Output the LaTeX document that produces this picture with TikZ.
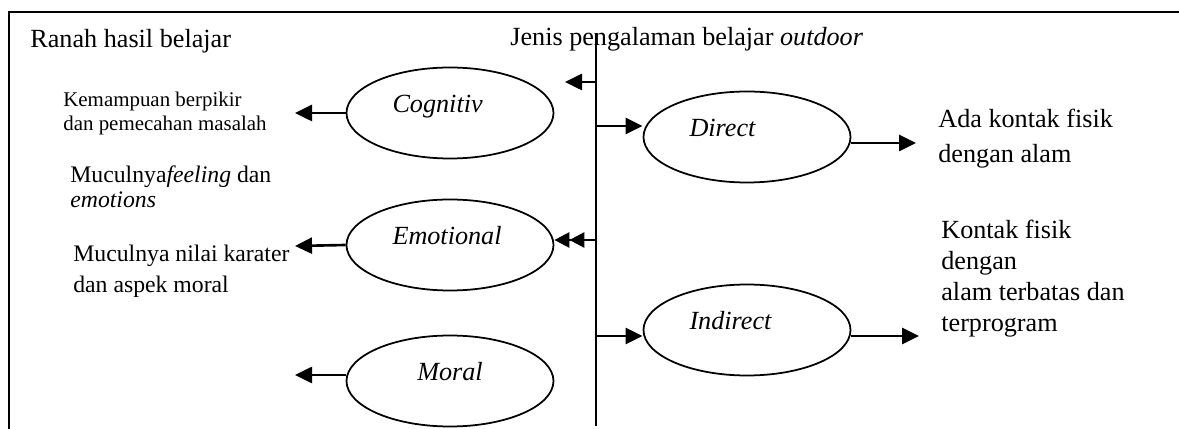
\documentclass[tikz,border=0pt]{standalone}
\usepackage{fontspec}
\setmainfont{Liberation Serif}
\usetikzlibrary{shapes.geometric}
\usetikzlibrary{arrows.meta}

\begin{document}
\begin{tikzpicture}[
    oval/.style={draw, ellipse, line width=1pt, minimum width=4.14cm, minimum height=1.82cm, inner sep=0pt, text width=2.3cm, align=left, text height=0.4cm, text depth=0.4cm, font=\fontsize{14.9}{17.6}\selectfont\itshape},
    head/.style={anchor=base west, inner sep=0pt, font=\fontsize{14.9}{17.6}\selectfont},
    txt/.style={anchor=north west, inner sep=0pt, align=left, font=\fontsize{14.9}{17.6}\selectfont},
    arr/.style={line width=1.5pt, -{Triangle[length=0.34cm, width=0.32cm]}},
    dbl/.style={line width=1.5pt, -{Triangle[length=0.3cm, width=0.3cm] Triangle[length=0.3cm, width=0.3cm]}},
    frame/.style={line width=1.1pt}
]
\useasboundingbox (0,0) rectangle (23.58,-8.58);

% Frame
\draw[frame] (0.18,-8.58) -- (0.18,-0.24) -- (23.58,-0.24);

% Headings
\node[head] (ranah) at (0.6,-0.96) {Ranah hasil belajar};
\node[head] (jenis) at (10.2,-0.92) {Jenis pengalaman belajar \textit{outdoor}};

% Axis
\coordinate (axTop) at (11.92,-0.66);
\coordinate (axBot) at (11.92,-8.52);
\draw[frame] (axTop) -- (axBot);

% Ellipses
\node[oval] (cog) at (9.0,-2.26) {Cognitiv};
\node[oval] (emo) at (9.0,-4.9) {Emotional};
\node[oval, align=center] (mor) at (9.0,-7.62) {Moral};
\node[oval] (dir) at (14.94,-2.74) {Direct};
\node[oval] (ind) at (14.94,-6.6) {Indirect};

% Left texts
\node[txt, font=\fontsize{11.9}{13.6}\selectfont] (kem) at (1.26,-1.83) {Kemampuan berpikir\\dan pemecahan masalah};
\node[txt, font=\fontsize{13.5}{14.2}\selectfont] (feel) at (1.40,-3.31) {Muculnya\textit{feeling} dan\\\textit{emotions}};
\node[txt, font=\fontsize{13.5}{17.6}\selectfont] (nilai) at (1.46,-4.89) {Muculnya nilai karater\\dan aspek moral};

% Right texts
\node[txt, font=\fontsize{14.9}{19.8}\selectfont] (ada) at (18.76,-2.18) {Ada kontak fisik\\dengan alam};
\node[txt] (kontak) at (18.82,-4.40) {Kontak fisik\\dengan\\alam terbatas dan\\terprogram};

% Arrow ends
\coordinate (cogTip) at (5.9,-2.26);
\coordinate (emoTip) at (5.9,-4.92);
\coordinate (morTip) at (5.9,-7.5);
\coordinate (dirTip) at (18.32,-2.86);
\coordinate (indTip) at (18.38,-6.72);
\coordinate (ax1) at (11.92,-1.64);
\coordinate (ax1Tip) at (11.3,-1.64);
\coordinate (ax2) at (11.92,-2.52);
\coordinate (ax3) at (11.92,-4.80);
\coordinate (ax4) at (11.92,-6.72);

% Arrows
\draw[arr] (cog.west) -- (cogTip);
\draw[arr] (emo.west) -- (emoTip);
\draw[arr] (mor.west |- morTip) -- (morTip);
\draw[arr] (ax1) -- (ax1Tip);
\draw[arr] (ax2) -- (ax2 -| dir.west);
\draw[dbl] (ax3) -- (ax3 -| emo.east);
\draw[arr] (ax4) -- (ax4 -| ind.west);
\draw[arr] (dir.east |- dirTip) -- (dirTip);
\draw[arr] (ind.east |- indTip) -- (indTip);

\end{tikzpicture}
\end{document}
